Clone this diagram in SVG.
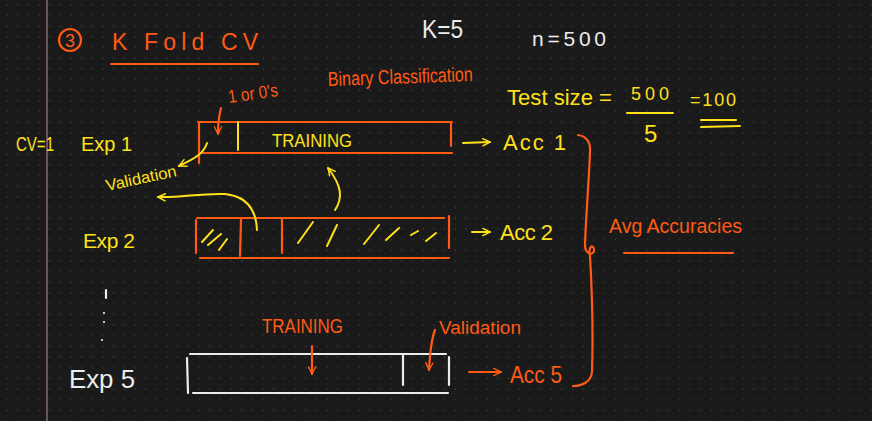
<svg xmlns="http://www.w3.org/2000/svg" width="872" height="421" viewBox="0 0 872 421">
  <defs>
    <pattern id="dots" x="2" y="0" width="10.67" height="10.67" patternUnits="userSpaceOnUse">
      <circle cx="5.3" cy="5" r="0.8" fill="#3b3b3b"/>
    </pattern>
    <marker id="ahY" viewBox="0 0 10 10" refX="9" refY="5" markerWidth="9" markerHeight="9" orient="auto-start-reverse" markerUnits="userSpaceOnUse">
      <path d="M1,1 L9,5 L1,9" fill="none" stroke="#ffe11a" stroke-width="1.6" stroke-linecap="round" stroke-linejoin="round"/>
    </marker>
    <marker id="ahO" viewBox="0 0 10 10" refX="9" refY="5" markerWidth="9" markerHeight="9" orient="auto-start-reverse" markerUnits="userSpaceOnUse">
      <path d="M1,1 L9,5 L1,9" fill="none" stroke="#ff5b14" stroke-width="1.6" stroke-linecap="round" stroke-linejoin="round"/>
    </marker>
    <style>
      text { font-family: "Liberation Sans", "Noto Sans", sans-serif; }
      .o { fill: #ff5b14; }
      .y { fill: #ffe11a; }
      .w { fill: #ececec; }
      .so { stroke: #ff5b14; fill: none; stroke-width: 2.2; stroke-linecap: round; }
      .sy { stroke: #ffe11a; fill: none; stroke-width: 2; stroke-linecap: round; }
      .sw { stroke: #ececec; fill: none; stroke-width: 2.2; stroke-linecap: round; }
    </style>
  </defs>

  <!-- page -->
  <rect width="872" height="421" fill="#1a1a1a"/>
  <rect width="872" height="421" fill="url(#dots)"/>
  <line x1="47" y1="0" x2="47" y2="421" stroke="#84687a" stroke-width="1.5"/>

  <!-- heading -->
  <g id="title">
    <circle cx="70" cy="40" r="11" class="so" stroke-width="2"/>
    <text x="70" y="47" class="o" font-size="18" text-anchor="middle">3</text>
    <text x="112" y="50" class="o" font-size="23" textLength="146" lengthAdjust="spacing">K  Fold  CV</text>
    <line x1="111" y1="64" x2="258" y2="64" class="so"/>
  </g>

  <g id="params">
    <text x="422" y="38" class="w" font-size="25" textLength="41" lengthAdjust="spacingAndGlyphs">K=5</text>
    <text x="532" y="46" class="w" font-size="21" textLength="74" lengthAdjust="spacing">n=500</text>
  </g>

  <g id="test-size">
    <text x="507" y="105" class="y" font-size="22" textLength="105" lengthAdjust="spacingAndGlyphs">Test size =</text>
    <text x="631" y="100" class="y" font-size="18" textLength="38" lengthAdjust="spacing">500</text>
    <line x1="627" y1="113" x2="673" y2="113" class="sy"/>
    <text x="644" y="142" class="y" font-size="24">5</text>
    <text x="690" y="106" class="y" font-size="18" textLength="46" lengthAdjust="spacing">=100</text>
    <line x1="701" y1="120" x2="736" y2="120" class="sy"/>
    <line x1="701" y1="127" x2="740" y2="126" class="sy"/>
  </g>

  <g id="note-label">
    <text x="229" y="103" class="o" font-size="18" transform="rotate(-8 229 103)" textLength="50" lengthAdjust="spacingAndGlyphs">1 or 0's</text>
    <text x="328" y="86" class="o" font-size="20" transform="rotate(-2 328 86)" textLength="145" lengthAdjust="spacingAndGlyphs">Binary Classification</text>
  </g>

  <!-- experiment 1 -->
  <g id="exp1">
    <text x="16" y="151" class="y" font-size="20" textLength="38" lengthAdjust="spacingAndGlyphs">CV=1</text>
    <text x="81" y="151" class="y" font-size="20" textLength="51" lengthAdjust="spacing">Exp 1</text>
    <line x1="198" y1="122" x2="452" y2="122" class="so"/>
    <line x1="199" y1="153" x2="452" y2="153" class="so"/>
    <line x1="199" y1="122" x2="199" y2="163" class="so"/>
    <line x1="451" y1="122" x2="451" y2="146" class="so"/>
    <line x1="238" y1="122" x2="238" y2="150" class="sy"/>
    <text x="272" y="147" class="y" font-size="19" textLength="80" lengthAdjust="spacingAndGlyphs">TRAINING</text>
    <text x="503" y="150" class="y" font-size="22" textLength="63" lengthAdjust="spacing">Acc 1</text>
  </g>

  <!-- experiment 2 -->
  <g id="exp2">
    <text x="83" y="248" class="y" font-size="21" textLength="52" lengthAdjust="spacing">Exp 2</text>
    <line x1="197" y1="218" x2="444" y2="218" class="so"/>
    <line x1="200" y1="258" x2="449" y2="258" class="so"/>
    <line x1="196" y1="220" x2="196" y2="253" class="so"/>
    <line x1="241" y1="219" x2="240" y2="256" class="so"/>
    <line x1="282" y1="219" x2="282" y2="253" class="so"/>
    <line x1="449" y1="216" x2="449" y2="248" class="so"/>
    <!-- hatching -->
    <path class="sy" d="M202,242 L213,230 M208,245 L221,234 M219,250 L227,239
                        M298,243 L313,222 M327,246 L337,225 M364,244 L379,225 M386,240 L399,228
                        M411,235 L418,231 M426,241 L436,233"/>
    <text x="500" y="240" class="y" font-size="22" textLength="53" lengthAdjust="spacing">Acc 2</text>
  </g>

  <g id="validation-note">
    <text x="107" y="191" class="y" font-size="16" transform="rotate(-12 107 191)" textLength="72" lengthAdjust="spacingAndGlyphs">Validation</text>
  </g>

  <g id="avg">
    <text x="609" y="233" class="o" font-size="20" textLength="133" lengthAdjust="spacingAndGlyphs">Avg Accuracies</text>
    <line x1="624" y1="253" x2="733" y2="253" class="so"/>
  </g>

  <!-- elided experiments -->
  <g id="ellipsis">
    <line x1="106" y1="290" x2="106" y2="298" class="sw" stroke-width="1.8"/>
    <circle cx="104" cy="313" r="1.1" class="w"/>
    <circle cx="104" cy="322" r="1.1" class="w"/>
    <circle cx="102" cy="340" r="1.1" class="w"/>
  </g>

  <!-- experiment 5 -->
  <g id="exp5">
    <text x="69" y="388" class="w" font-size="25" textLength="66" lengthAdjust="spacingAndGlyphs">Exp 5</text>
    <line x1="190" y1="354" x2="446" y2="354" class="sw"/>
    <line x1="193" y1="393" x2="448" y2="393" class="sw"/>
    <line x1="187" y1="358" x2="188" y2="393" class="sw"/>
    <line x1="403" y1="355" x2="403" y2="385" class="sw"/>
    <line x1="449" y1="357" x2="449" y2="385" class="sw"/>
    <text x="262" y="333" class="o" font-size="21" textLength="81" lengthAdjust="spacingAndGlyphs">TRAINING</text>
    <text x="439" y="334" class="o" font-size="18" textLength="82" lengthAdjust="spacingAndGlyphs">Validation</text>
    <text x="510" y="383" class="o" font-size="24" textLength="52" lengthAdjust="spacingAndGlyphs">Acc 5</text>
  </g>

  <!-- connectors -->
  <g id="connectors">
    <path class="so" d="M221,108 C219,116 218,124 218,134" marker-end="url(#ahO)"/>
    <path class="sy" d="M207,143 C204,153 196,158 179,166" marker-end="url(#ahY)"/>
    <path class="sy" d="M257,230 C256,208 245,196 225,194 C200,193 180,198 158,197" marker-end="url(#ahY)"/>
    <path class="sy" d="M335,210 C343,198 342,186 328,168" marker-end="url(#ahY)"/>
    <path class="sy" d="M463,143 L490,142" marker-end="url(#ahY)"/>
    <path class="sy" d="M472,232 L490,232" marker-end="url(#ahY)"/>
    <path class="so" d="M312,346 L312,374" marker-end="url(#ahO)"/>
    <path class="so" d="M435,330 C431,340 430,352 429,370" marker-end="url(#ahO)"/>
    <path class="so" d="M469,372 L501,372" marker-end="url(#ahO)"/>
    <!-- brace grouping the accuracies -->
    <path class="so" d="M578,135 C586,136 591,142 590,152 C589,180 586,215 585,245 C585,255 595,256 594,249 C593,244 588,246 590,256 C592,290 593,340 592,372 C591,382 582,386 573,386"/>
  </g>
</svg>
